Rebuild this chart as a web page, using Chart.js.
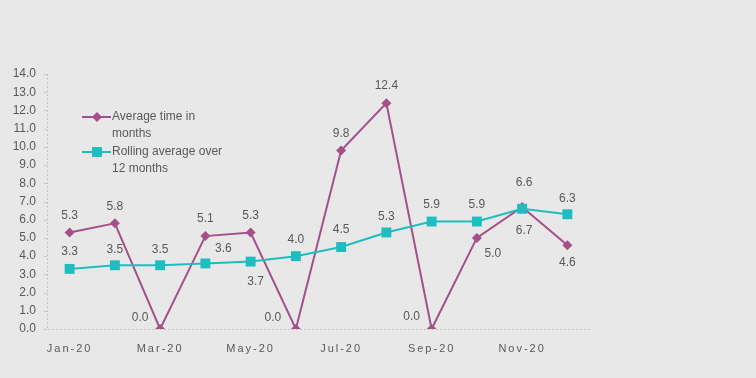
<!DOCTYPE html>
<html>
<head>
<meta charset="utf-8">
<script src="https://cdn.jsdelivr.net/npm/chart.js@4/dist/chart.umd.min.js"></script>
<style>
  html, body { margin: 0; padding: 0; background: #e8e8e8; }
  #wrap { width: 756px; height: 378px; position: relative; }
</style>
</head>
<body>
<div id="wrap"><canvas id="c"></canvas></div>
<script>
// ---- data ----
const categories = ["Jan-20","Feb-20","Mar-20","Apr-20","May-20","Jun-20","Jul-20","Aug-20","Sep-20","Oct-20","Nov-20","Dec-20"];
const averageTime = [5.3, 5.8, 0.0, 5.1, 5.3, 0.0, 9.8, 12.4, 0.0, 5.0, 6.7, 4.6];
const rollingAverage = [3.3, 3.5, 3.5, 3.6, 3.7, 4.0, 4.5, 5.3, 5.9, 5.9, 6.6, 6.3];
const seriesNames = [["Average time in", "months"], ["Rolling average over", "12 months"]];
const yTicks = {min: 0, max: 14, step: 1};

// ---- styling (label placement offsets relative to each point) ----
const PURPLE = "#a4508b";
const TEAL = "#1fbdc0";
const TEXT = "#595959";
const AXIS = "#c6c6c6";
const FONT = "Liberation Sans, Arial, sans-serif";
const labelOffsets = [
  [[0,-17],[0,-17],[-20,-11],[0,-17],[0,-17],[-23,-11],[0,-17],[0,-17],[-20,-12],[16,16],[2,24],[0,17]],
  [[0,-17],[0,-16],[0,-16],[18,-15],[5,20],[0,-16],[0,-17],[0,-16],[0,-17],[0,-17],[2,-26],[0,-16]]
];

const spacingPlugin = {
  id: 'spacing',
  beforeDraw(chart) { chart.ctx.letterSpacing = '2px'; },
  beforeDatasetsDraw(chart) {
    const ctx = chart.ctx;
    ctx.letterSpacing = '0px';
    const a = chart.chartArea;
    ctx.save();
    ctx.strokeStyle = AXIS;
    ctx.lineWidth = 1;
    ctx.setLineDash([2, 2]);
    ctx.beginPath();
    ctx.moveTo(a.left + 0.5, a.top);
    ctx.lineTo(a.left + 0.5, a.bottom + 0.5);
    ctx.lineTo(a.right, a.bottom + 0.5);
    ctx.stroke();
    ctx.setLineDash([]);
    const ys = chart.scales.y;
    ys.ticks.forEach(t => {
      const y = Math.round(ys.getPixelForValue(t.value)) + 0.5;
      ctx.beginPath(); ctx.moveTo(a.left - 3, y); ctx.lineTo(a.left, y); ctx.stroke();
    });
    ctx.restore();
  }
};

const dataLabelPlugin = {
  id: 'dlabels',
  afterDatasetsDraw(chart) {
    const ctx = chart.ctx;
    ctx.save();
    ctx.letterSpacing = '0px';
    ctx.font = "12px " + FONT;
    ctx.fillStyle = TEXT;
    ctx.textAlign = 'center';
    ctx.textBaseline = 'middle';
    chart.data.datasets.forEach((ds, di) => {
      const meta = chart.getDatasetMeta(di);
      meta.data.forEach((pt, i) => {
        const off = labelOffsets[di][i];
        ctx.fillText(ds.data[i].toFixed(1), pt.x + off[0], pt.y + off[1]);
      });
    });
    ctx.restore();
  }
};

const legendPlugin = {
  id: 'customLegend',
  afterDraw(chart) {
    const ctx = chart.ctx;
    ctx.save();
    ctx.letterSpacing = '0px';
    ctx.font = "12px " + FONT;
    ctx.fillStyle = TEXT;
    ctx.textAlign = 'left';
    ctx.textBaseline = 'middle';
    const items = [
      {y: 117, color: PURPLE, style: 'rectRot', r: 5},
      {y: 152, color: TEAL, style: 'rect', r: 7}
    ];
    items.forEach((it, k) => {
      ctx.strokeStyle = it.color;
      ctx.lineWidth = 2;
      ctx.beginPath();
      ctx.moveTo(82, it.y);
      ctx.lineTo(111, it.y);
      ctx.stroke();
      ctx.fillStyle = it.color;
      Chart.helpers.drawPoint(ctx, {pointStyle: it.style, radius: it.r, borderWidth: 0, rotation: 0}, 97, it.y);
      ctx.fillStyle = TEXT;
      ctx.fillText(seriesNames[k][0], 112, it.y);
      ctx.fillText(seriesNames[k][1], 112, it.y + 17);
    });
    ctx.restore();
  }
};

new Chart(document.getElementById('c'), {
  type: 'line',
  data: {
    labels: categories,
    datasets: [
      {
        label: seriesNames[0].join(' '),
        data: averageTime,
        order: 1,
        borderColor: PURPLE,
        backgroundColor: PURPLE,
        borderWidth: 2,
        pointStyle: 'rectRot',
        pointRadius: 5,
        pointBorderWidth: 0,
        tension: 0
      },
      {
        label: seriesNames[1].join(' '),
        data: rollingAverage,
        order: 0,
        borderColor: TEAL,
        backgroundColor: TEAL,
        borderWidth: 2,
        pointStyle: 'rect',
        pointRadius: 7,
        pointBorderWidth: 0,
        tension: 0
      }
    ]
  },
  options: {
    responsive: true,
    maintainAspectRatio: false,
    animation: false,
    layout: { padding: { left: 0, right: 166, top: 74, bottom: 0 } },
    plugins: { legend: { display: false }, tooltip: { enabled: false } },
    scales: {
      x: {
        offset: true,
        grid: { display: false, drawTicks: false },
        border: { display: false },
        ticks: {
          autoSkip: false,
          maxRotation: 0,
          padding: 13,
          color: TEXT,
          font: { family: FONT, size: 11 },
          callback: function(v, i) { return i % 2 === 0 ? categories[i] : ''; }
        },
        afterFit(s) { s.height = 49; }
      },
      y: {
        min: yTicks.min,
        max: yTicks.max,
        grid: { display: false, drawTicks: false },
        border: { display: false },
        ticks: {
          z: 1,
          stepSize: yTicks.step,
          padding: 11,
          color: TEXT,
          font: { family: FONT, size: 12 },
          callback: v => Number(v).toFixed(1)
        },
        afterFit(s) { s.width = 47; }
      }
    }
  },
  plugins: [spacingPlugin, dataLabelPlugin, legendPlugin]
});
</script>
</body>
</html>
